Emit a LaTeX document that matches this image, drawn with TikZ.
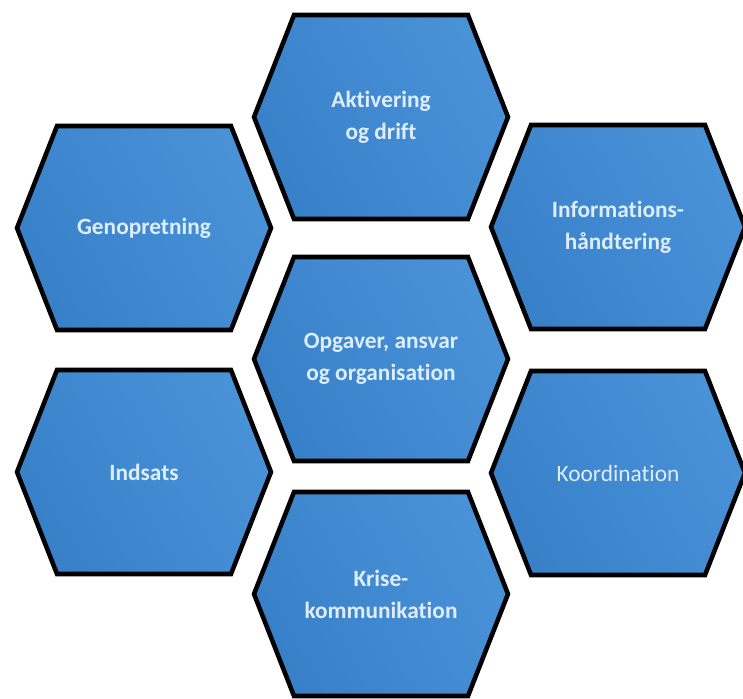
\documentclass[tikz,border=0pt]{standalone}
\usepackage{fontspec}
\setmainfont{Carlito}[Ligatures=NoCommon]
\usepackage{tikz}

\definecolor{hexblue}{RGB}{56,128,200}
\definecolor{hexlight}{RGB}{74,146,216}
\definecolor{hextext}{RGB}{222,237,250}

\newcommand{\hexc}[4]{
  \draw[hexline] (#2-127,#3) -- (#2-87,#3-102) -- (#2+87,#3-102)
    -- (#2+127,#3) -- (#2+87,#3+102) -- (#2-87,#3+102) -- cycle;
  \node[hexlabel] (#1) at (#2,#3) {#4};}

\begin{document}
\begin{tikzpicture}[x=0.75pt, y=-0.75pt,
    hexline/.style={draw=black, line width=3.4pt, left color=hexblue, right color=hexlight, shading angle=120},
    hexlabel/.style={text=hextext, align=center, font=\fontsize{17.5}{24}\selectfont\bfseries}]
  \useasboundingbox (0,0) rectangle (743,699);

  % Middle column
  % -------------
  \foreach \n/\x/\y/\t in {aktiv/381/117/{Aktivering\\og drift},
                           opgaver/381/359/{Opgaver, ansvar\\og organisation},
                           krise/381/594/{Krise-\\kommunikation}}
  \hexc{\n}{\x}{\y}{\t};

  % Left column
  % -----------
  \foreach \n/\x/\y/\t in {genop/144/228/Genopretning,
                           indsats/144/472/Indsats}
  \hexc{\n}{\x}{\y}{\t};

  % Right column
  % ------------
  \hexc{info}{618}{227}{Informations-\\håndtering};
  \hexc{koord}{618}{473}{\mdseries Koordination};

\end{tikzpicture}
\end{document}
